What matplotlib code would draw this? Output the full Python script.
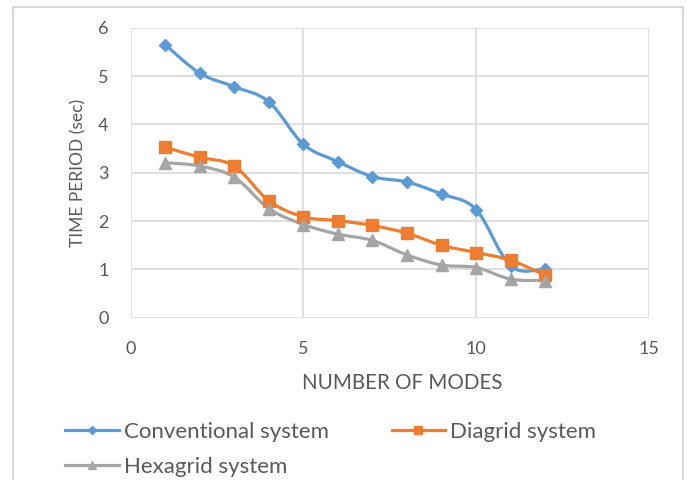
import numpy as np
import matplotlib
matplotlib.use('Agg')
import matplotlib.pyplot as plt
from matplotlib.path import Path
from matplotlib.patches import PathPatch, Rectangle
from matplotlib.lines import Line2D

plt.rcParams['font.family'] = ['Lato', 'DejaVu Sans']

# time periods per mode
modes = [1, 2, 3, 4, 5, 6, 7, 8, 9, 10, 11, 12]
conventional = [5.65, 5.06, 4.78, 4.47, 3.59, 3.23, 2.92, 2.81, 2.56, 2.24, 1.07, 1.01]
diagrid = [3.53, 3.32, 3.14, 2.42, 2.09, 2.01, 1.91, 1.75, 1.50, 1.35, 1.19, 0.88]
hexagrid = [3.21, 3.14, 2.91, 2.26, 1.93, 1.73, 1.60, 1.30, 1.09, 1.04, 0.80, 0.77]

names = ['Conventional system', 'Diagrid system', 'Hexagrid system']
colors = ['#5B9BD5', '#ED7D31', '#A5A5A5']
markers = ['D', 's', '^']
msizes = [6, 8, 8]

grey = '#595959'


def smooth_path(x, y):
    # excel-style smoothed line: cubic bezier through every point
    pts = np.column_stack([x, y])
    n = len(pts)
    verts = [pts[0]]
    codes = [Path.MOVETO]
    for i in range(n - 1):
        p0 = pts[max(i - 1, 0)]
        p1 = pts[i]
        p2 = pts[i + 1]
        p3 = pts[min(i + 2, n - 1)]
        c1 = p1 + (p2 - p0) / 6.0
        c2 = p2 - (p3 - p1) / 6.0
        verts += [c1, c2, p2]
        codes += [Path.CURVE4] * 3
    return Path(verts, codes)


fig = plt.figure(figsize=(6.88, 4.8), dpi=100)
ax = fig.add_axes([0.19, 0.338, 0.753, 0.604])

# chart border
fig.patches.append(Rectangle((13 / 688, -0.1), 670 / 688, 1.1 - 7 / 480,
                             transform=fig.transFigure, fill=False,
                             edgecolor='#d9d9d9', linewidth=1.5))

series = [conventional, diagrid, hexagrid]
for vals, c, m, ms in zip(series, colors, markers, msizes):
    ax.add_patch(PathPatch(smooth_path(modes, vals), facecolor='none',
                           edgecolor=c, linewidth=2.3, zorder=3,
                           capstyle='round', joinstyle='round'))
    ax.plot(modes, vals, linestyle='none', marker=m, markersize=ms,
            color=c, zorder=4)

ax.set_xlim(0, 15)
ax.set_ylim(0, 6)
ax.set_xticks([0, 5, 10, 15])
ax.set_yticks(range(7))
ax.grid(True, color='#d9d9d9', linewidth=1.2)
ax.set_axisbelow(True)
for s in ax.spines.values():
    s.set_visible(False)
ax.tick_params(length=0, colors=grey, labelsize=13)
ax.tick_params(axis='x', pad=16.5)
ax.tick_params(axis='y', pad=16)
ax.set_xlabel('NUMBER OF MODES', color=grey, fontsize=14.8, labelpad=12)
ax.xaxis.label.set_x(0.524)
ax.set_ylabel('TIME PERIOD (sec)', color=grey, fontsize=12.5, labelpad=8)

handles = [Line2D([], [], color=c, linewidth=2.3, marker=m, markersize=ms * 0.7)
           for c, m, ms in zip(colors, markers, msizes)]
order = [0, 2, 1]
fig.legend([handles[i] for i in order], [names[i] for i in order],
           loc='upper left', bbox_to_anchor=(0.082, 0.14), ncol=2,
           frameon=False, fontsize=16, labelcolor=grey, handlelength=2.4,
           handletextpad=0.22, columnspacing=2.84, labelspacing=0.7,
           borderaxespad=0)

fig.savefig('out.png', dpi=100)
